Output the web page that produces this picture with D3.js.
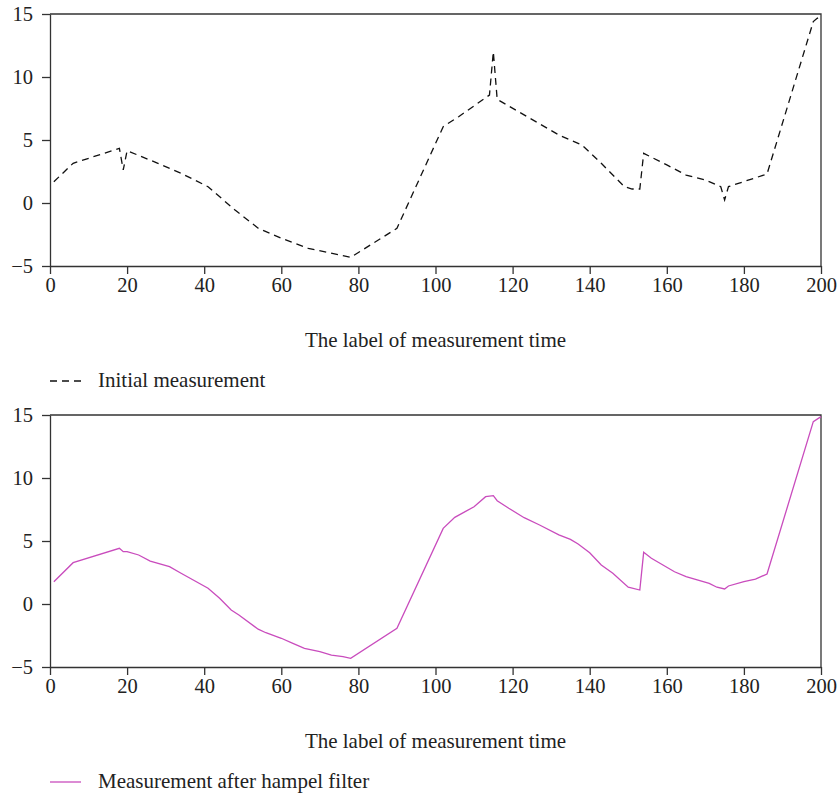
<!DOCTYPE html>
<html>
<head>
  <meta charset="utf-8" />
  <title>Hampel filter</title>
  <style>
    body { margin: 0; background: #fff; }
    svg text { font-family: "Liberation Serif", "Times New Roman", serif; fill: #222; }
  </style>
</head>
<body>
  <svg id="chart" width="837" height="797"></svg>

  <script src="https://cdn.jsdelivr.net/npm/d3@7"></script>
  <script>

    var initialT = [1, 6, 18, 19, 20, 28, 34, 41, 48, 54, 60, 67, 78, 90, 102, 106, 114, 115, 116, 132,
                    138, 143, 149, 151, 153, 154, 160, 165, 170, 174, 175, 176, 186, 198, 199, 200]
    var initialV = [1.69, 3.15, 4.34, 2.62, 4.15, 3.15, 2.36, 1.29, -0.56, -2.0, -2.8, -3.6, -4.31, -2.01, 6.06, 6.85, 8.57, 12.0, 8.23, 5.4,
                    4.6, 3.15, 1.29, 1.11, 1.11, 3.94, 3.02, 2.22, 1.83, 1.29, 0.24, 1.3, 2.3, 14.4, 14.66, 14.8]

    var filteredT = [1, 6, 18, 19, 20, 23, 26, 31, 34, 41, 44, 47, 49, 54, 56, 60, 63, 66, 70, 73, 76, 78, 90,
                     102, 105, 110, 113, 115, 116, 119, 123, 127, 132, 135, 137, 140, 143, 146, 150, 153, 154,
                     156, 162, 165, 171, 173, 175, 176, 180, 183, 186, 198, 200]
    var filteredV = [1.77, 3.28, 4.42, 4.15, 4.15, 3.89, 3.41, 2.96, 2.44, 1.25, 0.45, -0.48, -0.87, -2.0, -2.28, -2.72, -3.12, -3.52, -3.78, -4.05, -4.18, -4.31, -1.93,
                     6.0, 6.88, 7.72, 8.52, 8.6, 8.2, 7.6, 6.85, 6.27, 5.48, 5.13, 4.76, 4.07, 3.1, 2.44, 1.33, 1.11, 4.1,
                     3.63, 2.56, 2.17, 1.64, 1.33, 1.19, 1.43, 1.77, 1.98, 2.38, 14.47, 14.87]

    var xTicks = [0, 20, 40, 60, 80, 100, 120, 140, 160, 180, 200]
    var yTicks = [-5, 0, 5, 10, 15]
    var xTitle = 'The label of measurement time'

    var svg = d3.select('#chart')
    var left = 50, right = 821, plotH = 252
    var pink = '#c94cbd'

    var x = d3.scaleLinear().domain([0, 200]).range([left, right])

    drawPanel(14, initialT, initialV, '#111', '7,5', 'Initial measurement')
    drawPanel(415, filteredT, filteredV, pink, null, 'Measurement after hampel filter')

    function drawPanel(top, ts, vs, color, dash, name) {
      var bottom = top + plotH
      var y = d3.scaleLinear().domain([-5, 15]).range([bottom, top])
      var g = svg.append('g')

      // frame (top + right)
      g.append('path')
        .attr('d', 'M' + left + ',' + top + 'H' + right + 'V' + bottom)
        .attr('fill', 'none')
        .attr('stroke', '#333')
        .attr('stroke-width', 1.3)

      var xa = g.append('g')
        .attr('transform', 'translate(0,' + bottom + ')')
        .call(d3.axisBottom(x).tickValues(xTicks).tickSize(8).tickSizeOuter(0).tickPadding(3))
      var ya = g.append('g')
        .attr('transform', 'translate(' + left + ',0)')
        .call(d3.axisLeft(y).tickValues(yTicks).tickSize(8).tickSizeOuter(0).tickPadding(9)
          .tickFormat(function (d) { return d < 0 ? '\u2212' + Math.abs(d) : d }))
      ;[xa, ya].forEach(function (a) {
        a.select('.domain').attr('stroke', '#333').attr('stroke-width', 1.3)
        a.selectAll('.tick line').attr('stroke', '#333').attr('stroke-width', 1.3)
        a.selectAll('.tick text').style('font-size', '20.5px').attr('fill', '#222')
          .style('font-family', '"Liberation Serif", serif')
      })

      var pts = ts.map(function (t, i) { return [t, vs[i]] })
      var line = d3.line()
        .x(function (d) { return x(d[0]) })
        .y(function (d) { return y(d[1]) })

      g.append('path')
        .datum(pts)
        .attr('d', line)
        .attr('fill', 'none')
        .attr('stroke', color)
        .attr('stroke-width', 1.3)
        .attr('stroke-dasharray', dash)

      g.append('text')
        .attr('x', (left + right) / 2)
        .attr('y', bottom + 81)
        .attr('text-anchor', 'middle')
        .style('font-size', '21px')
        .text(xTitle)

      // legend
      var ly = bottom + 115
      g.append('line')
        .attr('x1', 50).attr('x2', 81)
        .attr('y1', ly).attr('y2', ly)
        .attr('stroke', color)
        .attr('stroke-width', 1.3)
        .attr('stroke-dasharray', dash)
      g.append('text')
        .attr('x', 98)
        .attr('y', ly + 6)
        .style('font-size', '21px')
        .text(name)
    }

  </script>
</body>
</html>
